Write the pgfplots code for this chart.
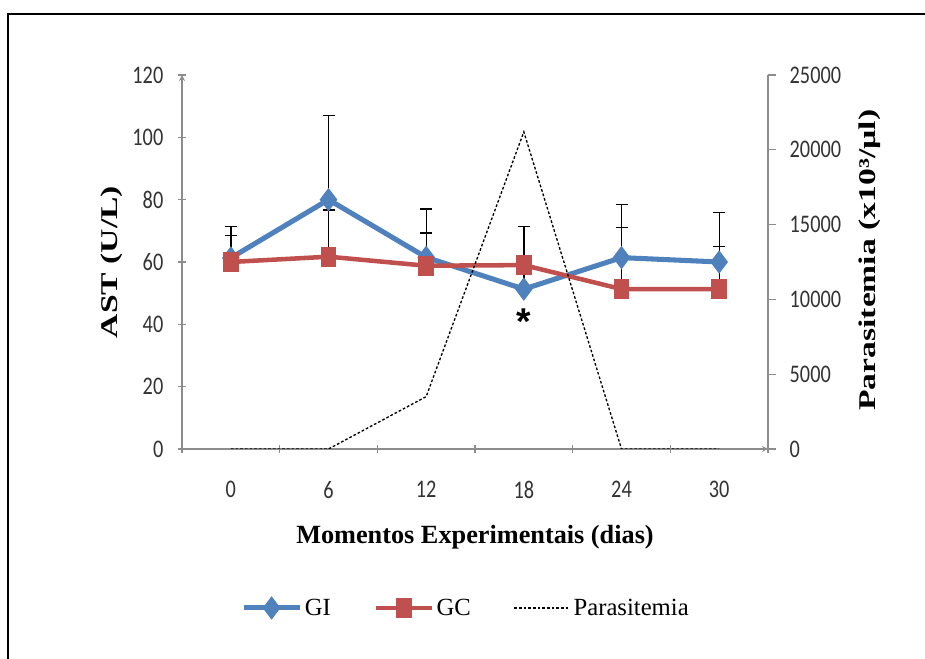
\documentclass[border=0pt]{standalone}
\usepackage{pgfplots}
\pgfplotsset{compat=1.18}
\usepackage{pgfplotstable}
\usepackage{fontspec}
\setmainfont{Liberation Serif}
\setsansfont{Liberation Sans}
\newfontfamily\tickfont[FakeStretch=0.8]{Carlito}
\newfontfamily\xlabfont{Liberation Serif}
\newfontfamily\rotfont[FakeStretch=1.4]{Liberation Serif}
\definecolor{giblue}{HTML}{4F81BD}
\definecolor{gcred}{HTML}{C0504D}
\definecolor{axgray}{HTML}{8C8C8C}

\pgfplotstableread{
x gi gie gc gce par
0 61.3 10 60 8.4 0
1 80 27 61.7 15 0
2 61.5 15.5 58.8 10.5 3500
3 51.3 8 59 12.3 21200
4 61.4 17 51.3 19.7 0
5 60 15.8 51.3 13.6 0
}\data

\pgfplotsset{
 common/.style={
  scale only axis, width=439.5pt, height=280.5pt,
  at={(136.5pt,157.5pt)}, anchor=south west,
  xmin=-0.5, xmax=5.5,
  axis line style={-, axgray, line width=1pt},
  every outer x axis line/.append style={-},
  every outer y axis line/.append style={-},
  every inner x axis line/.append style={-},
  every inner y axis line/.append style={-},
  tick style={axgray, line width=1pt},
  tick align=outside,
  major tick length=6pt,
  ticklabel style={font=\tickfont\fontsize{19}{21}\selectfont, text=black!80},
  /pgf/number format/assume math mode=true,
 },
 gistyle/.style={giblue, line width=3.8pt, mark=diamond*, mark size=8pt, mark options={solid, fill=giblue, line width=1pt}},
 gcstyle/.style={gcred, line width=3.4pt, mark=square*, mark size=5.4pt, mark options={solid, fill=gcred, line width=1pt, yscale=1.3}},
 errstyle/.style={error bars/.cd, y dir=plus, y explicit,
   error bar style={black, line width=1pt, solid},
   error mark options={black, rotate=90, mark size=4.5pt, line width=1pt, solid}},
}

\begin{document}
\begin{tikzpicture}
\path[use as bounding box] (0,0) rectangle (693.75pt,494.25pt);
\draw[line width=1.5pt] (6pt,-2pt) -- (6pt,483.75pt) -- (696pt,483.75pt);

\begin{axis}[common,
  axis x line=bottom, axis y line=left,
  ymin=0, ymax=120, ytick={0,20,...,120},
  xtick={-0.5,0.5,...,5.5}, xticklabels={0,6,12,18,24,30},
  x tick label as interval,
  xticklabel style={yshift=-17.5pt},
  yticklabel style={xshift=-7.5pt},
  xlabel={Momentos Experimentais (dias)},
  ylabel={AST (U/L)},
  xlabel style={at={(axis description cs:0.5,-0.2353)}, anchor=center, font=\xlabfont\bfseries\fontsize{19.7}{22}\selectfont},
  ylabel style={at={(axis description cs:-0.12,0.5)}, anchor=center, font=\rotfont\bfseries\fontsize{18}{20}\selectfont},
]
\addplot[gistyle, errstyle] table[x=x, y=gi, y error=gie] {\data};
\addplot[gcstyle, errstyle] table[x=x, y=gc, y error=gce] {\data};
\node[anchor=north, inner sep=0pt, font=\sffamily\bfseries\fontsize{28}{28}\selectfont] at (axis cs:3,45) {*};
\end{axis}

\begin{axis}[common,
  axis x line=none, axis y line*=right,
  ymin=0, ymax=25000, ytick={0,5000,...,25000},
  scaled y ticks=false,
  yticklabel style={/pgf/number format/1000 sep={}, xshift=6.75pt},
  ylabel={Parasitemia (x10³/µl)},
  ylabel style={at={(axis description cs:1.174,0.505)}, anchor=center, font=\rotfont\bfseries\fontsize{18}{20}\selectfont},
  legend style={at={(axis description cs:0.485,-0.425)}, anchor=center, draw=none, fill=none,
    legend columns=3, font=\fontsize{18.5}{20}\selectfont,
    /tikz/every even column/.append style={column sep=30pt}},
  legend image code/.code={\draw[mark repeat=2,mark phase=2,#1] plot coordinates {(0pt,0pt) (21pt,0pt) (42pt,0pt)};},
]
\addlegendimage{gistyle}
\addlegendimage{gcstyle}
\addplot[black, line width=1pt, dash pattern=on 2pt off 1.5pt] table[x=x, y=par] {\data};
\legend{GI, GC, Parasitemia}
\end{axis}
\end{tikzpicture}
\end{document}
